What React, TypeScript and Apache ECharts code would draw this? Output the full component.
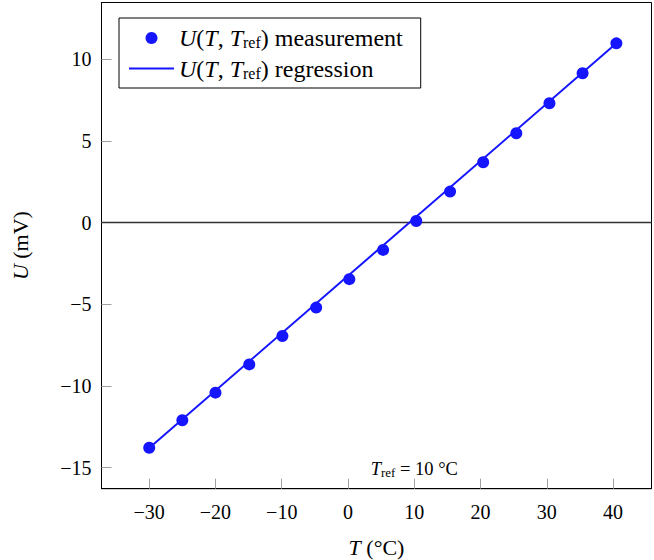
import React, { useEffect, useRef } from "react";
import * as echarts from "echarts";

// Measured temperatures (°C) and thermocouple voltages (mV)
const temperatures = [-30.0, -25.0, -20.0, -14.9, -9.9, -4.8, 0.2, 5.3, 10.3, 15.4, 20.4, 25.4, 30.4, 35.4, 40.5];
const voltages = [-13.78, -12.1, -10.41, -8.68, -6.94, -5.2, -3.46, -1.67, 0.1, 1.9, 3.7, 5.47, 7.31, 9.15, 10.98];

// Regression line end points
const regressionT = [-30.0, 40.5];
const regressionU = [-13.8, 10.98];

// Axis extents
const xRange = [-37.2, 45.8];
const yRange = [-16.29, 13.48];

const annotationCoord = [10, -15.1];

const BLUE = "#1515ff";
const FONT = "Liberation Serif";

const fmtNum = (v: number) => (v < 0 ? "\u2212" + Math.abs(v) : String(v));

const rich = (size: number, sub: number, lh: number) => ({
  i: { fontStyle: "italic", fontFamily: FONT, fontSize: size, color: "#000", lineHeight: lh },
  n: { fontFamily: FONT, fontSize: size, color: "#000", lineHeight: lh },
  s: { fontFamily: FONT, fontSize: sub, color: "#000", lineHeight: sub, verticalAlign: "bottom" },
});

export default function App() {
  const ref = useRef<HTMLDivElement>(null);
  useEffect(() => {
    if (!ref.current) return;
    const chart = echarts.init(ref.current, undefined, { renderer: "svg" });
    chart.setOption({
      animation: false,
      backgroundColor: "#fff",
      grid: {
        left: 101.5,
        right: 2.5,
        top: 2.5,
        bottom: 71.3,
        containLabel: false,
        outerBoundsMode: "none",
        show: true,
        borderColor: "#000",
        borderWidth: 1,
        backgroundColor: "transparent",
      },
      legend: {
        orient: "vertical",
        left: 119,
        top: 18,
        padding: [8, 18, 7, 10],
        itemGap: 6,
        itemWidth: 45,
        itemHeight: 12,
        borderColor: "#000",
        borderWidth: 1,
        backgroundColor: "#fff",
        data: [
          { name: "measurement", icon: "circle" },
          { name: "regression", icon: "path://M0 0 L45 0 L45 2 L0 2 Z" },
        ],
        formatter: (name: string) => `{i|U}{n|(}{i|T}{n|, }{i|T}{s|ref}{n|) ${name}}`,
        textStyle: { fontFamily: FONT, fontSize: 24, color: "#000", rich: rich(24, 16, 25) },
      },
      xAxis: {
        type: "value",
        min: xRange[0],
        max: xRange[1],
        minInterval: 10,
        maxInterval: 10,
        name: "{i|T}{n| (°C)}",
        nameLocation: "middle",
        nameGap: 49,
        nameTextStyle: { rich: rich(22, 15, 20) },
        axisLine: { show: true, onZero: false, lineStyle: { color: "#000", width: 1 } },
        axisTick: { show: true, inside: true, length: 10, lineStyle: { color: "#a0a0a0", width: 1 } },
        axisLabel: {
          margin: 13,
          fontFamily: FONT,
          fontSize: 20,
          color: "#000",
          showMinLabel: false,
          showMaxLabel: false,
          formatter: fmtNum,
        },
        splitLine: { show: false },
      },
      yAxis: {
        type: "value",
        min: yRange[0],
        max: yRange[1],
        minInterval: 5,
        maxInterval: 5,
        name: "{i|U}{n| (mV)}",
        nameLocation: "middle",
        nameGap: 69,
        nameTextStyle: { rich: rich(22, 15, 24) },
        axisLine: { show: true, onZero: false, lineStyle: { color: "#000", width: 1 } },
        axisTick: { show: true, inside: true, length: 10, lineStyle: { color: "#a0a0a0", width: 1 } },
        axisLabel: {
          margin: 10,
          fontFamily: FONT,
          fontSize: 20,
          color: "#000",
          showMinLabel: false,
          showMaxLabel: false,
          formatter: fmtNum,
        },
        splitLine: { show: false },
      },
      series: [
        {
          name: "regression",
          type: "line",
          data: regressionT.map((t, i) => [t, regressionU[i]]),
          showSymbol: false,
          symbol: "none",
          lineStyle: { color: BLUE, width: 2 },
          itemStyle: { color: BLUE },
          z: 3,
          markLine: {
            silent: true,
            symbol: ["none", "none"],
            label: { show: false },
            lineStyle: { color: "#333", width: 1.3, type: "solid" },
            data: [{ yAxis: 0 }],
            z: 1,
          },
        },
        {
          name: "measurement",
          type: "scatter",
          data: temperatures.map((t, i) => [t, voltages[i]]),
          symbol: "circle",
          symbolSize: 12,
          itemStyle: { color: BLUE, opacity: 1 },
          z: 4,
          markPoint: {
            silent: true,
            symbol: "circle",
            symbolSize: 1,
            itemStyle: { color: "rgba(0,0,0,0)" },
            data: [{ coord: annotationCoord }],
            label: {
              show: true,
              position: "inside",
              formatter: "{i|T}{s|ref}{n| = 10 °C}",
              rich: rich(18.5, 13, 20),
            },
          },
        },
      ],
    });
    return () => chart.dispose();
  }, []);
  return (
    <div
      ref={ref}
      style={{ position: "fixed", left: 0, top: 0, width: 654, height: 560, background: "#fff" }}
    />
  );
}
